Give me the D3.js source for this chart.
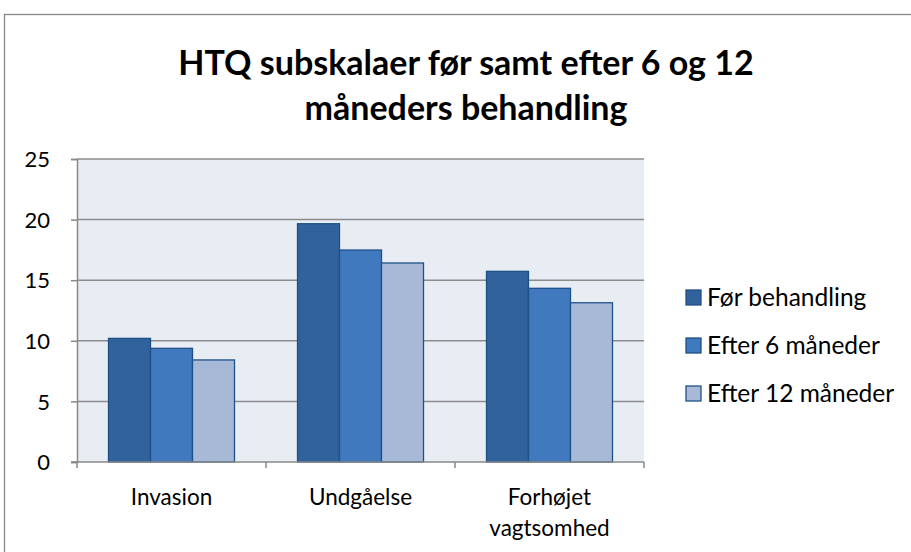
<!DOCTYPE html>
<html>
<head>
<meta charset="utf-8">
<script src="https://cdn.jsdelivr.net/npm/d3@7"></script>
<style>
  body { margin: 0; background: #fff; }
  svg { display: block; font-family: Lato, "Liberation Sans", sans-serif; }
</style>
</head>
<body>
<svg id="vis" width="911" height="552"></svg>
<script>
// data
const categories = [["Invasion"], ["Undgåelse"], ["Forhøjet", "vagtsomhed"]];
const seriesNames = ["Før behandling", "Efter 6 måneder", "Efter 12 måneder"];
const before = [10.2, 19.66, 15.73];
const after6 = [9.38, 17.49, 14.33];
const after12 = [8.42, 16.42, 13.14];
const yTicks = [0, 5, 10, 15, 20, 25];
const titleLines = ["HTQ subskalaer før samt efter 6 og 12", "måneders behandling"];

const seriesColor = ["#31629b", "#4079be", "#a8b9d7"];
const strokeColor = "#1f5189";

const svg = d3.select('#vis');
const plot = {left: 77, right: 644, top: 159, bottom: 462};

// chart frame
svg.append("rect")
    .attr("x", 4.5).attr("y", 14.5)
    .attr("width", 920).attr("height", 560)
    .attr("fill", "#fff")
    .attr("stroke", "#888").attr("stroke-width", 1.3);

// title
svg.selectAll(".title")
    .data(titleLines)
    .enter().append("text")
    .attr("class", "title")
    .attr("x", 466)
    .attr("y", function (d, i) { return 75 + i * 45; })
    .attr("text-anchor", "middle")
    .attr("font-size", 34)
    .attr("font-weight", "bold")
    .attr("fill", "#000")
    .text(function (d) { return d; });

const rows = categories.map(function (c, i) {
    return {label: c, values: [before[i], after6[i], after12[i]]};
});

const x0 = d3.scaleBand()
    .domain(d3.range(categories.length))
    .range([plot.left, plot.right])
    .paddingInner(1 / 3)
    .paddingOuter(1 / 6);

const x1 = d3.scaleBand()
    .domain(d3.range(seriesNames.length))
    .range([0, x0.bandwidth()]);

const y = d3.scaleLinear()
    .domain([0, 25])
    .range([plot.bottom, plot.top]);

// plot background
svg.append("rect")
    .attr("x", plot.left).attr("y", plot.top)
    .attr("width", plot.right - plot.left)
    .attr("height", plot.bottom - plot.top)
    .attr("fill", "#e8edf4");

// gridlines + ticks
const yAxis = d3.axisLeft(y)
    .tickValues(yTicks)
    .tickSize(6)
    .tickPadding(21)
    .tickFormat(d3.format("d"));

const yG = svg.append("g")
    .attr("transform", "translate(" + plot.left + ",0)")
    .call(yAxis);
yG.select(".domain").attr("stroke", "#888").attr("stroke-width", 1.5);
yG.selectAll(".tick line").attr("stroke", "#888").attr("stroke-width", 1.5);
yG.selectAll(".tick text")
    .attr("font-size", 22)
    .attr("font-family", "Lato, sans-serif")
    .attr("fill", "#000")
    .attr("dy", "0.35em");

svg.append("g")
    .selectAll("line")
    .data(yTicks.filter(function (d) { return d > 0; }))
    .enter().append("line")
    .attr("x1", plot.left).attr("x2", plot.right)
    .attr("y1", function (d) { return y(d); })
    .attr("y2", function (d) { return y(d); })
    .attr("stroke", "#8c8c8c")
    .attr("stroke-width", 1.5);

// bars
const group = svg.selectAll(".cat")
    .data(rows)
    .enter().append("g")
    .attr("class", "cat")
    .attr("transform", function (d, i) { return "translate(" + x0(i) + ",0)"; });

group.selectAll("rect")
    .data(function (d) { return d.values; })
    .enter().append("rect")
    .attr("x", function (d, i) { return x1(i); })
    .attr("y", function (d) { return y(d); })
    .attr("width", x1.bandwidth())
    .attr("height", function (d) { return y(0) - y(d); })
    .attr("fill", function (d, i) { return seriesColor[i]; })
    .attr("stroke", strokeColor)
    .attr("stroke-width", 1.3);

// x axis
const xAxisG = svg.append("g");
xAxisG.append("line")
    .attr("x1", plot.left - 6).attr("x2", plot.right)
    .attr("y1", plot.bottom).attr("y2", plot.bottom)
    .attr("stroke", "#888").attr("stroke-width", 1.5);

const boundaries = d3.range(categories.length + 1).map(function (i) {
    return plot.left + i * x0.step();
});
xAxisG.selectAll(".xt")
    .data(boundaries)
    .enter().append("line")
    .attr("x1", function (d) { return d; })
    .attr("x2", function (d) { return d; })
    .attr("y1", plot.bottom).attr("y2", plot.bottom + 6)
    .attr("stroke", "#888").attr("stroke-width", 1.5);

const xLabel = xAxisG.selectAll(".xl")
    .data(rows)
    .enter().append("text")
    .attr("class", "xl")
    .attr("text-anchor", "middle")
    .attr("font-size", 22.5)
    .attr("fill", "#000");

xLabel.selectAll("tspan")
    .data(function (d, i) {
        return d.label.map(function (t) { return {t: t, cx: x0(i) + x0.bandwidth() / 2}; });
    })
    .enter().append("tspan")
    .attr("x", function (d) { return d.cx; })
    .attr("y", function (d, j) { return 505 + j * 31; })
    .text(function (d) { return d.t; });

// legend
const legend = svg.selectAll(".legend")
    .data(seriesNames)
    .enter().append("g")
    .attr("class", "legend")
    .attr("transform", function (d, i) { return "translate(686," + (290 + i * 48) + ")"; });

legend.append("rect")
    .attr("width", 15).attr("height", 15)
    .attr("fill", function (d, i) { return seriesColor[i]; })
    .attr("stroke", strokeColor)
    .attr("stroke-width", 1.3);

legend.append("text")
    .attr("x", 21)
    .attr("y", 16)
    .attr("font-size", 24.5)
    .attr("fill", "#000")
    .text(function (d) { return d; });
</script>
</body>
</html>
